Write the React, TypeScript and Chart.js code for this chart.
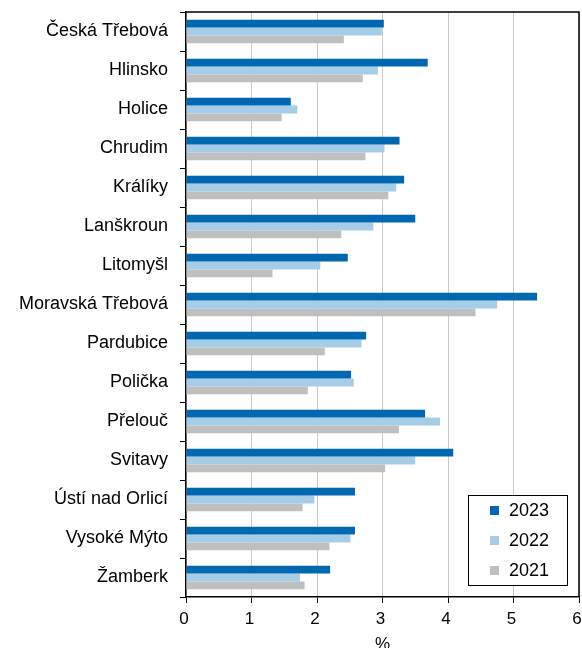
import React, { useEffect, useRef } from "react";
import { Chart, registerables } from "chart.js";

Chart.register(...registerables);

const categories = [
  "Česká Třebová",
  "Hlinsko",
  "Holice",
  "Chrudim",
  "Králíky",
  "Lanškroun",
  "Litomyšl",
  "Moravská Třebová",
  "Pardubice",
  "Polička",
  "Přelouč",
  "Svitavy",
  "Ústí nad Orlicí",
  "Vysoké Mýto",
  "Žamberk",
];

const values2023 = [3.02, 3.69, 1.6, 3.26, 3.33, 3.5, 2.47, 5.36, 2.75, 2.52, 3.65, 4.08, 2.58, 2.58, 2.2];
const values2022 = [2.99, 2.93, 1.7, 3.03, 3.21, 2.86, 2.05, 4.75, 2.68, 2.56, 3.88, 3.5, 1.96, 2.51, 1.74];
const values2021 = [2.41, 2.7, 1.46, 2.74, 3.09, 2.37, 1.32, 4.42, 2.12, 1.86, 3.25, 3.04, 1.78, 2.19, 1.81];

const seriesLabels = ["2023", "2022", "2021"];
const seriesColors = ["#0068B0", "#A6CDE8", "#BFBFBF"];

const xTicks = [0, 1, 2, 3, 4, 5, 6];
const xTitle = "%";

const FONT = "'Liberation Sans', Arial, Helvetica, sans-serif";

const boxPlugin = {
  id: "boxPlugin",
  afterDatasetsDraw(chart: any) {
    const { ctx, chartArea } = chart;
    ctx.save();
    ctx.strokeStyle = "#000";
    ctx.lineWidth = 1.5;
    ctx.beginPath();
    ctx.moveTo(chartArea.left, chartArea.top);
    ctx.lineTo(chartArea.right, chartArea.top);
    ctx.lineTo(chartArea.right, chartArea.bottom);
    ctx.stroke();
    ctx.restore();
  },
  afterDraw(chart: any) {
    const { ctx } = chart;
    const lx = 468;
    const ly = 495;
    const lw = 99;
    const lh = 90;
    ctx.save();
    ctx.fillStyle = "#fff";
    ctx.fillRect(lx, ly, lw, lh);
    ctx.strokeStyle = "#000";
    ctx.lineWidth = 1;
    ctx.strokeRect(lx + 0.5, ly + 0.5, lw, lh);
    ctx.font = `18px ${FONT}`;
    ctx.textBaseline = "middle";
    ctx.textAlign = "left";
    seriesLabels.forEach((lab, i) => {
      const cy = 510.5 + i * 30;
      ctx.fillStyle = seriesColors[i];
      ctx.fillRect(490, cy - 4.5, 9, 9);
      ctx.fillStyle = "#000";
      ctx.fillText(lab, 509, cy + 1);
    });
    ctx.restore();
  },
};

function zeroPadding(scale: any) {
  scale.paddingTop = 0;
  scale.paddingBottom = 0;
  scale.paddingLeft = 0;
  scale.paddingRight = 0;
}

export default function App() {
  const ref = useRef<HTMLCanvasElement | null>(null);

  useEffect(() => {
    if (!ref.current) return;
    Chart.defaults.font.family = FONT;
    const chart = new Chart(ref.current, {
      type: "bar",
      data: {
        labels: categories,
        datasets: [
          { label: seriesLabels[0], data: values2023, backgroundColor: seriesColors[0] },
          { label: seriesLabels[1], data: values2022, backgroundColor: seriesColors[1] },
          { label: seriesLabels[2], data: values2021, backgroundColor: seriesColors[2] },
        ],
      },
      options: {
        indexAxis: "y",
        responsive: false,
        animation: false,
        devicePixelRatio: 1,
        datasets: { bar: { categoryPercentage: 0.6, barPercentage: 1 } },
        layout: { padding: { left: 0, right: 3, top: 12, bottom: 0 } },
        plugins: {
          legend: { display: false },
          tooltip: { enabled: false },
          title: { display: false },
        },
        scales: {
          x: {
            type: "linear",
            min: 0,
            max: 6,
            afterBuildTicks(scale: any) {
              scale.ticks = xTicks.map((v) => ({ value: v }));
            },
            afterFit(scale: any) {
              scale.height = 51;
              zeroPadding(scale);
            },
            ticks: {
              color: "#000",
              font: { size: 17 },
              padding: 6,
              stepSize: 1,
              labelOffset: -2,
            },
            grid: {
              color: "#C8C8C8",
              lineWidth: 1,
              tickColor: "#000",
              tickLength: 6,
            },
            border: { display: true, color: "#000", width: 1.5 },
            title: {
              display: true,
              text: xTitle,
              color: "#000",
              font: { size: 17 },
              padding: { top: 0, bottom: -7 },
            },
          },
          y: {
            type: "category",
            afterFit(scale: any) {
              scale.width = 186;
              zeroPadding(scale);
            },
            ticks: {
              color: "#000",
              font: { size: 18 },
              padding: 12,
              autoSkip: false,
            },
            grid: {
              offset: true,
              drawOnChartArea: false,
              tickColor: "#000",
              tickLength: 6,
            },
            border: { display: true, color: "#000", width: 1.5 },
          },
        },
      },
      plugins: [boxPlugin],
    });
    return () => chart.destroy();
  }, []);

  return (
    <div style={{ position: "absolute", left: 0, top: 0, width: 582, height: 648, background: "#fff" }}>
      <canvas ref={ref} width={582} height={648} style={{ display: "block" }} />
    </div>
  );
}
